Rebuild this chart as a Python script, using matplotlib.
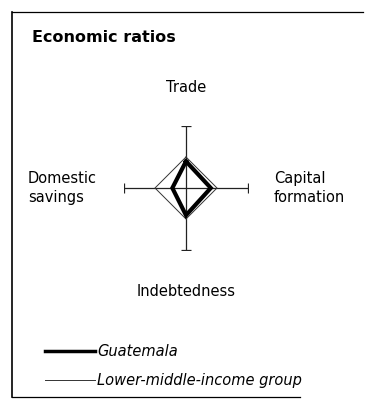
import matplotlib
matplotlib.use("Agg")
import matplotlib.pyplot as plt
from matplotlib.lines import Line2D

plt.rcParams['font.family'] = ['DejaVu Sans']

# Data (indexed: lower-middle-income group = 1, axis max = 2)
axes_labels = ["Trade", "Capital\nformation", "Indebtedness", "Domestic\nsavings"]
guatemala = [0.86, 0.80, 0.88, 0.44]
lower_middle = [1.0, 1.0, 1.0, 1.0]
axis_max = 2.0
series_names = ["Guatemala", "Lower-middle-income group"]

W, H = 373, 403
fig = plt.figure(figsize=(W / 100, H / 100), dpi=100)

# Frame / text layer in pixel coordinates
bg = fig.add_axes([0, 0, 1, 1])
bg.set_xlim(0, W)
bg.set_ylim(H, 0)
bg.axis('off')
bg.plot([12, 12], [12, 397], color='black', lw=1.2)
bg.plot([12, 363], [12, 12], color='black', lw=0.9)
bg.plot([12, 300], [397, 397], color='black', lw=0.9)

bg.text(32, 38, "Economic ratios", fontsize=11.5, fontweight='bold',
        ha='left', va='center')

# Radar axes (centre at ~ (186,188), radius ~62 px)
cx, cy, r = 186, 188, 62
rad = fig.add_axes([(cx - r) / W, (H - cy - r) / H, 2 * r / W, 2 * r / H])
rad.set_xlim(-axis_max, axis_max)
rad.set_ylim(-axis_max, axis_max)
rad.axis('off')

axc = '#222222'
rad.plot([-axis_max, axis_max], [0, 0], color=axc, lw=0.9, solid_capstyle='butt')
rad.plot([0, 0], [-axis_max, axis_max], color=axc, lw=0.9, solid_capstyle='butt')
rad.plot([-axis_max, axis_max], [0, 0], ls='none', marker='|', ms=7, mew=0.9, color=axc)
rad.plot([0, 0], [-axis_max, axis_max], ls='none', marker='_', ms=7, mew=0.9, color=axc)


def poly(vals):
    t, c, i, s = vals
    xs = [0, c, 0, -s, 0]
    ys = [t, 0, -i, 0, t]
    return xs, ys


xs, ys = poly(lower_middle)
rad.plot(xs, ys, color='#333333', lw=0.7)
xs, ys = poly(guatemala)
rad.plot(xs, ys, color='black', lw=3.0, solid_joinstyle='miter')

lab_fs = 10.5
bg.text(186, 88, axes_labels[0], fontsize=lab_fs, ha='center', va='center')
bg.text(274, 188, axes_labels[1], fontsize=lab_fs, ha='left', va='center', linespacing=1.4)
bg.text(186, 292, axes_labels[2], fontsize=lab_fs, ha='center', va='center')
bg.text(28, 188, axes_labels[3], fontsize=lab_fs, ha='left', va='center', linespacing=1.4)

# Legend
bg.add_line(Line2D([45, 95], [351, 351], color='black', lw=2.5))
bg.text(97, 351, series_names[0], fontsize=10.5, style='italic', ha='left', va='center')
bg.add_line(Line2D([45, 95], [380, 380], color='#333333', lw=0.7))
bg.text(97, 380, series_names[1], fontsize=10.5, style='italic', ha='left', va='center')

fig.savefig("out.png", dpi=100)
